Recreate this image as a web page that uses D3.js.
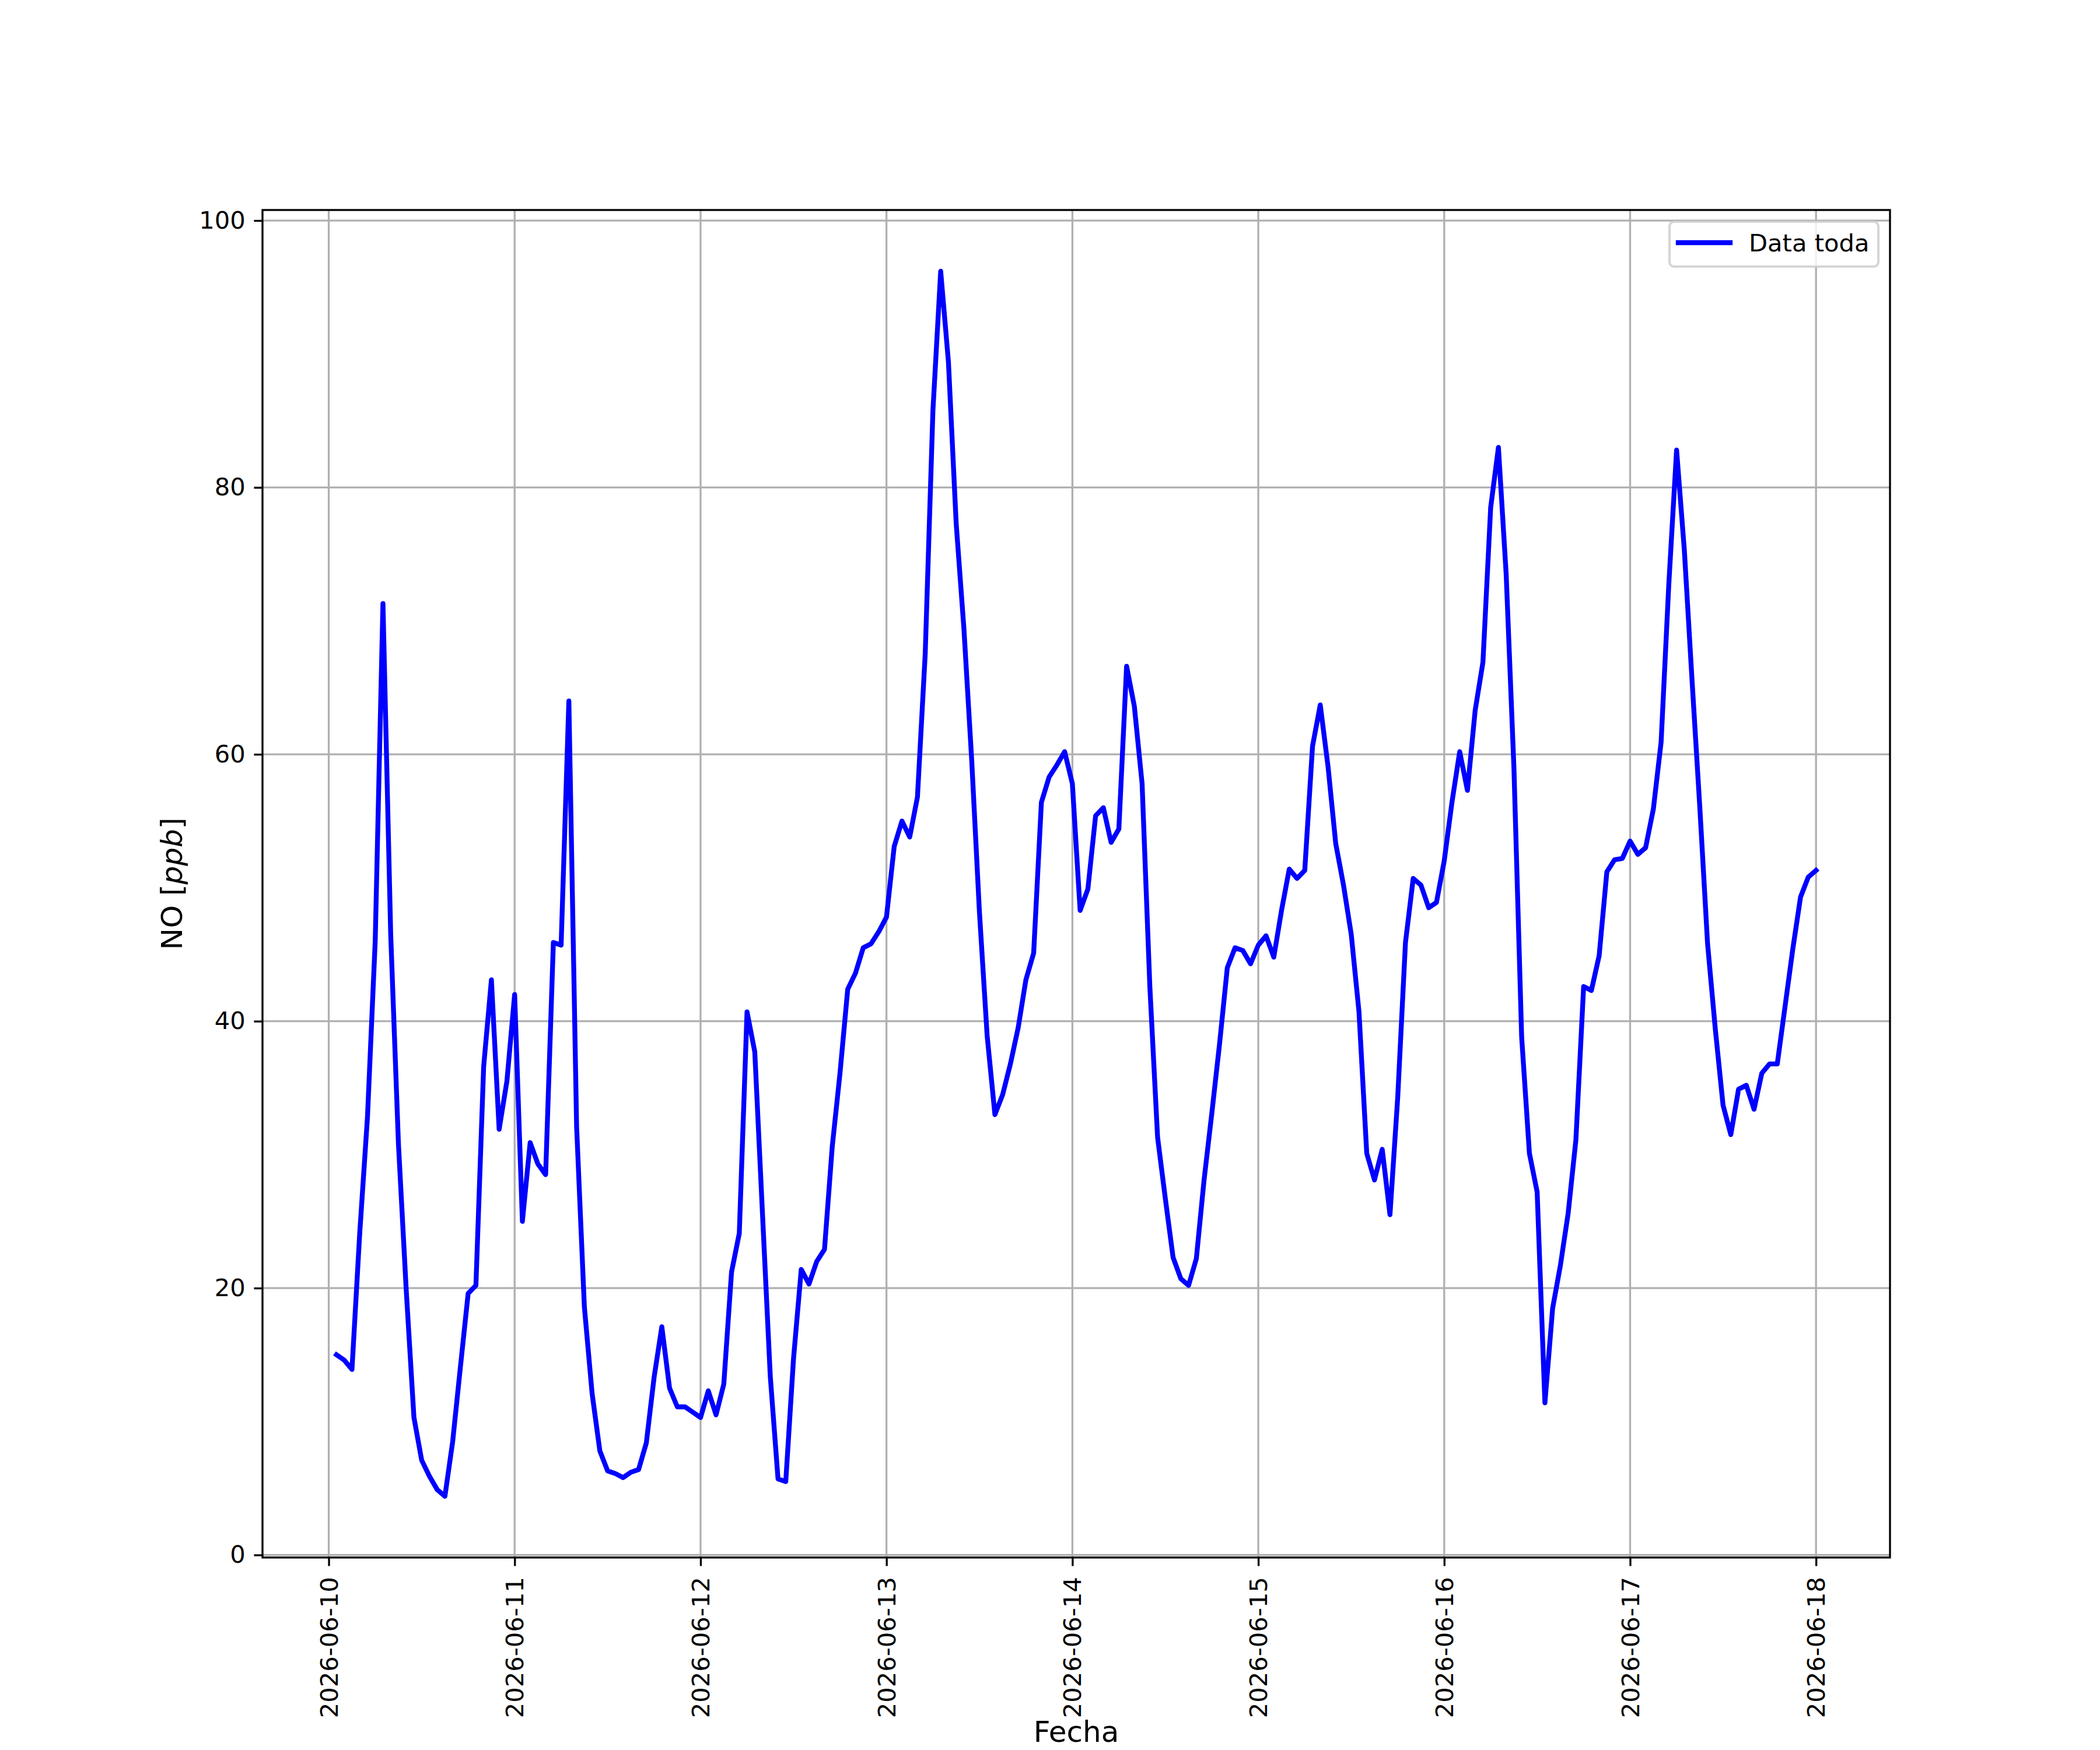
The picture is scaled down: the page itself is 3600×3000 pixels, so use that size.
<!DOCTYPE html>
<html>
<head>
<meta charset="utf-8">
<script src="https://cdn.jsdelivr.net/npm/d3@7"></script>
<style>
    body { margin: 0; background: #fff; }
    text { font-family: 'DejaVu Sans', sans-serif; }
</style>
</head>
<body>
<svg id="chart"></svg>
<script>
// hourly NO readings, first one at 2026-06-10 01:00 (UTC)
let startTime = '2026-06-10T01:00:00Z';

let day1 = [15.0, 14.6, 13.9, 24.1, 32.8, 46.0, 71.3, 46.5, 30.8, 19.9, 10.3, 7.1,
            5.9, 4.9, 4.4, 8.5, 14.1, 19.6, 20.2, 36.6, 43.1, 31.9, 35.5, 42.0];
let day2 = [25.0, 30.9, 29.3, 28.5, 45.9, 45.7, 64.0, 32.1, 18.6, 12.1, 7.8, 6.3,
            6.1, 5.8, 6.2, 6.4, 8.4, 13.3, 17.1, 12.5, 11.1, 11.1, 10.7, 10.3];
let day3 = [12.3, 10.5, 12.8, 21.2, 24.1, 40.7, 37.7, 25.5, 13.4, 5.7, 5.5, 14.7,
            21.4, 20.3, 22.0, 22.9, 30.6, 36.1, 42.4, 43.6, 45.5, 45.8, 46.7, 47.8];
let day4 = [53.1, 55.0, 53.8, 56.8, 67.5, 85.8, 96.2, 89.4, 77.3, 69.4, 59.6, 48.2,
            38.9, 33.0, 34.5, 36.8, 39.5, 43.1, 45.1, 56.4, 58.3, 59.2, 60.2, 57.8];
let day5 = [48.3, 49.9, 55.4, 56.0, 53.4, 54.4, 66.6, 63.6, 57.8, 42.6, 31.3, 26.7,
            22.3, 20.7, 20.2, 22.2, 28.1, 33.1, 38.3, 44.0, 45.5, 45.3, 44.3, 45.7];
let day6 = [46.4, 44.8, 48.3, 51.4, 50.7, 51.3, 60.6, 63.7, 59.1, 53.3, 50.2, 46.5,
            40.7, 30.1, 28.1, 30.4, 25.5, 34.3, 45.9, 50.7, 50.2, 48.5, 48.9, 52.0];
let day7 = [56.4, 60.2, 57.3, 63.3, 66.9, 78.5, 83.0, 73.5, 59.0, 38.8, 30.1, 27.2,
            11.4, 18.5, 21.7, 25.6, 31.1, 42.6, 42.3, 44.9, 51.2, 52.1, 52.2, 53.5];
let day8 = [52.5, 53.0, 55.9, 60.9, 72.8, 82.8, 75.3, 65.5, 56.0, 45.8, 39.4, 33.7,
            31.5, 34.9, 35.2, 33.4, 36.1, 36.8, 36.8, 41.1, 45.4, 49.3, 50.8, 51.3];

let xTickLabels = ['2026-06-10', '2026-06-11', '2026-06-12', '2026-06-13', '2026-06-14',
                   '2026-06-15', '2026-06-16', '2026-06-17', '2026-06-18'];
let yTicks = [0, 20, 40, 60, 80, 100];
let seriesName = 'Data toda';
let xTitle = 'Fecha';

window.addEventListener('DOMContentLoaded', e => {
    let noValues = [].concat(day1, day2, day3, day4, day5, day6, day7, day8);
    let t0 = new Date(startTime);
    let values = noValues.map((v, i) => ({time: d3.utcHour.offset(t0, i), no: v}));

    //Canvas (12x10 in at 300 dpi)
    let width = 3600;
    let height = 3000;
    let margin = {left: 450, right: 3240, top: 360, bottom: 2670};
    let pt = 300 / 72;
    let fontSize = 10 * pt;
    let labelSize = 12 * pt;
    let tickLen = 3.5 * pt;

    let svg = d3.select('#chart')
        .attr('width', width)
        .attr('height', height);

    //Scales, 5% padding like matplotlib
    let tMin = d3.min(values, d => d.time), tMax = d3.max(values, d => d.time);
    let tPad = (tMax - tMin) * 0.05;
    let xScale = d3.scaleUtc()
        .domain([new Date(+tMin - tPad), new Date(+tMax + tPad)])
        .range([margin.left, margin.right]);

    let vMin = d3.min(values, d => d.no), vMax = d3.max(values, d => d.no);
    let vPad = (vMax - vMin) * 0.05;
    let yScale = d3.scaleLinear()
        .domain([vMin - vPad, vMax + vPad])
        .range([margin.bottom, margin.top]);

    let xTicks = xTickLabels.map(s => new Date(s + 'T00:00:00Z'));

    //grid
    let grid = svg.append('g').attr('stroke', '#b0b0b0').attr('stroke-width', 0.8 * pt);
    grid.selectAll('.vgrid')
        .data(xTicks)
        .enter()
        .append('line')
        .attr('x1', d => xScale(d)).attr('x2', d => xScale(d))
        .attr('y1', margin.top).attr('y2', margin.bottom);
    grid.selectAll('.hgrid')
        .data(yTicks)
        .enter()
        .append('line')
        .attr('x1', margin.left).attr('x2', margin.right)
        .attr('y1', d => yScale(d)).attr('y2', d => yScale(d));

    //data line
    let line = d3.line()
        .x(d => xScale(d.time))
        .y(d => yScale(d.no));

    svg.append('path')
        .datum(values)
        .attr('d', line)
        .attr('fill', 'none')
        .attr('stroke', '#0000ff')
        .attr('stroke-width', 2 * pt)
        .attr('stroke-linejoin', 'round')
        .attr('stroke-linecap', 'square');

    //axes
    let xAxis = d3.axisBottom(xScale)
        .tickValues(xTicks)
        .tickFormat(d3.utcFormat('%Y-%m-%d'))
        .tickSize(tickLen)
        .tickPadding(tickLen);

    let gx = svg.append('g')
        .attr('transform', 'translate(0,' + margin.bottom + ')')
        .call(xAxis);
    gx.select('.domain').remove();
    gx.selectAll('.tick line').attr('stroke', '#000').attr('stroke-width', 0.8 * pt);
    gx.selectAll('.tick text')
        .attr('font-size', fontSize)
        .attr('font-family', 'DejaVu Sans')
        .attr('fill', '#000')
        .attr('transform', 'rotate(-90)')
        .attr('x', -(2 * tickLen + 4))
        .attr('y', 0)
        .attr('dy', '0.35em')
        .attr('text-anchor', 'end');

    let yAxis = d3.axisLeft(yScale)
        .tickValues(yTicks)
        .tickFormat(d3.format('d'))
        .tickSize(tickLen)
        .tickPadding(tickLen);

    let gy = svg.append('g')
        .attr('transform', 'translate(' + margin.left + ',0)')
        .call(yAxis);
    gy.select('.domain').remove();
    gy.selectAll('.tick line').attr('stroke', '#000').attr('stroke-width', 0.8 * pt);
    gy.selectAll('.tick text')
        .attr('font-size', fontSize)
        .attr('font-family', 'DejaVu Sans')
        .attr('fill', '#000');

    //spines
    svg.append('rect')
        .attr('x', margin.left)
        .attr('y', margin.top)
        .attr('width', margin.right - margin.left)
        .attr('height', margin.bottom - margin.top)
        .attr('fill', 'none')
        .attr('stroke', '#000')
        .attr('stroke-width', 0.8 * pt);

    //axis labels
    svg.append('text')
        .attr('x', (margin.left + margin.right) / 2)
        .attr('y', 2986)
        .attr('text-anchor', 'middle')
        .attr('font-size', labelSize)
        .text(xTitle);

    let ylab = svg.append('text')
        .attr('transform', 'translate(312,' + (margin.top + margin.bottom) / 2 + ') rotate(-90)')
        .attr('text-anchor', 'middle')
        .attr('font-size', labelSize);
    ylab.append('tspan').text('NO [');
    ylab.append('tspan').attr('font-style', 'italic').text('ppb');
    ylab.append('tspan').text(']');

    //legend
    let lg = svg.append('g');
    lg.append('rect')
        .attr('x', 2862)
        .attr('y', 380)
        .attr('width', 358)
        .attr('height', 77)
        .attr('rx', 8)
        .attr('fill', '#fff')
        .attr('fill-opacity', 0.8)
        .attr('stroke', '#cccccc')
        .attr('stroke-opacity', 0.8)
        .attr('stroke-width', 1 * pt);
    lg.append('line')
        .attr('x1', 2877).attr('x2', 2966)
        .attr('y1', 416).attr('y2', 416)
        .attr('stroke', '#0000ff')
        .attr('stroke-width', 2 * pt)
        .attr('stroke-linecap', 'square');
    lg.append('text')
        .attr('x', 2998)
        .attr('y', 431)
        .attr('font-size', fontSize)
        .text(seriesName);
});
</script>
</body>
</html>
